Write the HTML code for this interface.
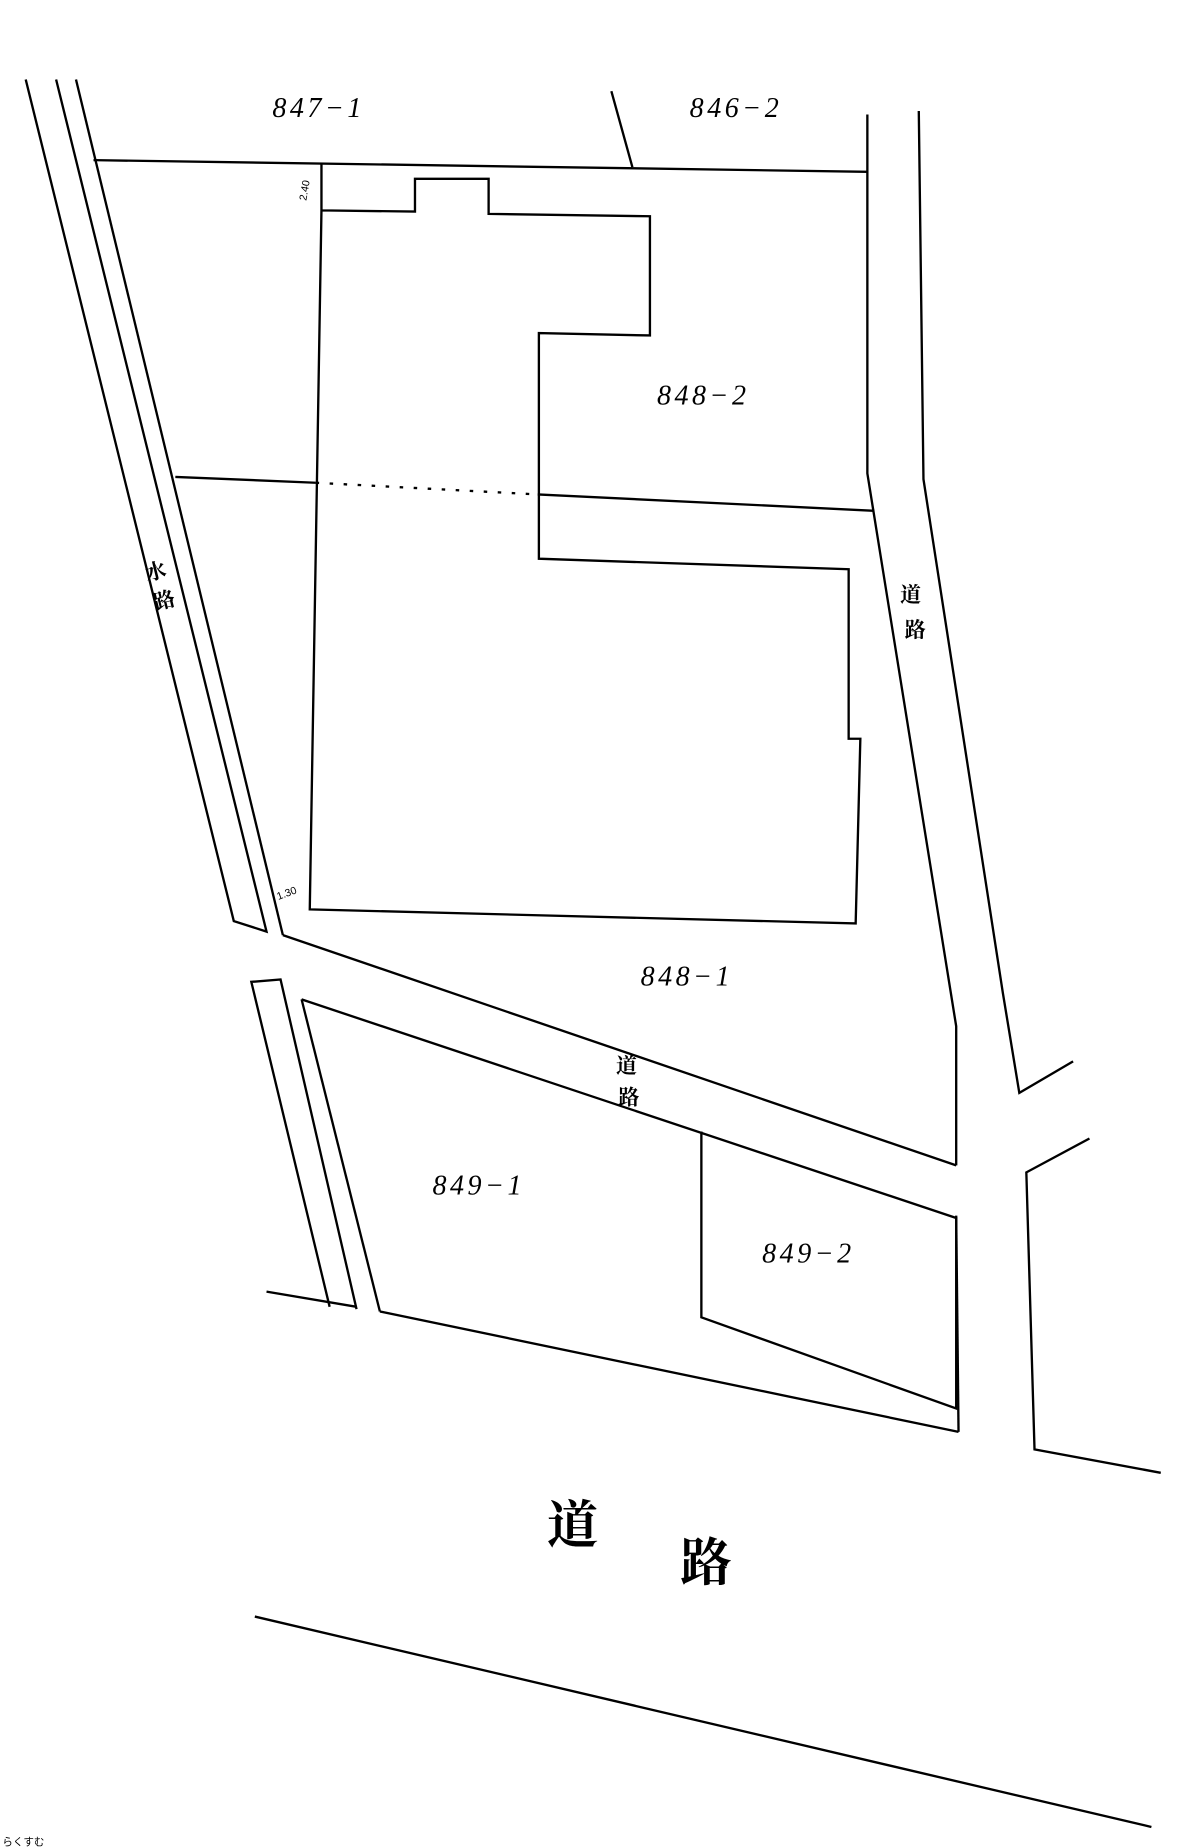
<!DOCTYPE html>
<html><head><meta charset="utf-8"><style>
html,body{margin:0;padding:0;background:#fff;}
svg{display:block;}
text{font-family:"Liberation Sans","Noto Sans CJK JP",sans-serif;fill:#000;}
.n{font-family:"Liberation Serif",serif;font-style:italic;font-size:24px;letter-spacing:3px;}
.k{font-family:"Noto Serif CJK SC","Noto Sans CJK JP",serif;font-weight:bold;}
</style></head><body>
<svg width="1197" height="1848" viewBox="0 0 1024 1581" preserveAspectRatio="none" xmlns="http://www.w3.org/2000/svg">
<g fill="none" stroke="#000" stroke-width="2" stroke-linejoin="miter">
<!-- left water channel -->
<polyline points="22,68 200,788 228,797 48,68"/>
<line x1="65" y1="68" x2="242" y2="800"/>
<!-- top boundary -->
<line x1="80" y1="137" x2="742" y2="147"/>
<line x1="523" y1="78" x2="541" y2="143"/>
<!-- right road -->
<polyline points="742,98 742,405 818,878 818,997"/>
<polyline points="786,95 790,410 858,850 872,935 918,908"/>
<!-- middle line -->
<polyline points="150,408 270,413"/>
<line x1="270" y1="413" x2="460" y2="423" stroke-dasharray="3,9"/>
<polyline points="460,423 748,437"/>
<!-- building outline -->
<polyline points="275,140 275,180 355,181 355,153 418,153 418,183 556,185 556,287 461,285 461,478 726,487 726,632 736,632 732,790 265,778 275,180"/>
<!-- middle road -->
<line x1="242" y1="800" x2="818" y2="997"/>
<polyline points="258,855 818,1042 818,1205 600,1127 600,968"/>
<!-- lower channel -->
<polyline points="282,1118 215,840 240,838 305,1120"/>
<line x1="258" y1="855" x2="325" y2="1122"/>
<line x1="228" y1="1105" x2="305" y2="1118"/>
<line x1="325" y1="1122" x2="820" y2="1225"/>
<line x1="818" y1="1040" x2="820" y2="1225"/>
<polyline points="932,974 878,1003 885,1240 993,1260"/>
<!-- bottom road -->
<line x1="218" y1="1383" x2="985" y2="1563"/>
</g>
<text class="n" x="233" y="100">847−1</text>
<text class="n" x="590" y="100">846−2</text>
<text class="n" x="562" y="346">848−2</text>
<text class="n" x="548" y="843">848−1</text>
<text class="n" x="370" y="1022">849−1</text>
<text class="n" x="652" y="1080">849−2</text>
<text x="262" y="172" font-size="9" transform="rotate(-80 262 172)">2.40</text>
<text x="238" y="770" font-size="9" transform="rotate(-20 238 770)">1.30</text>
<text class="k" x="127" y="495" font-size="18" transform="rotate(-14 135 500)">水</text>
<text class="k" x="132" y="520" font-size="18" transform="rotate(-14 140 515)">路</text>
<text class="k" x="770" y="515" font-size="18">道</text>
<text class="k" x="774" y="545" font-size="18">路</text>
<text class="k" x="527" y="918" font-size="18">道</text>
<text class="k" x="529" y="945" font-size="18">路</text>
<text class="k" x="468" y="1320" font-size="44">道</text>
<text class="k" x="582" y="1352" font-size="44">路</text>
<text x="2" y="1579" font-size="9" fill="#888">らくすむ</text>
</svg>
</body></html>
